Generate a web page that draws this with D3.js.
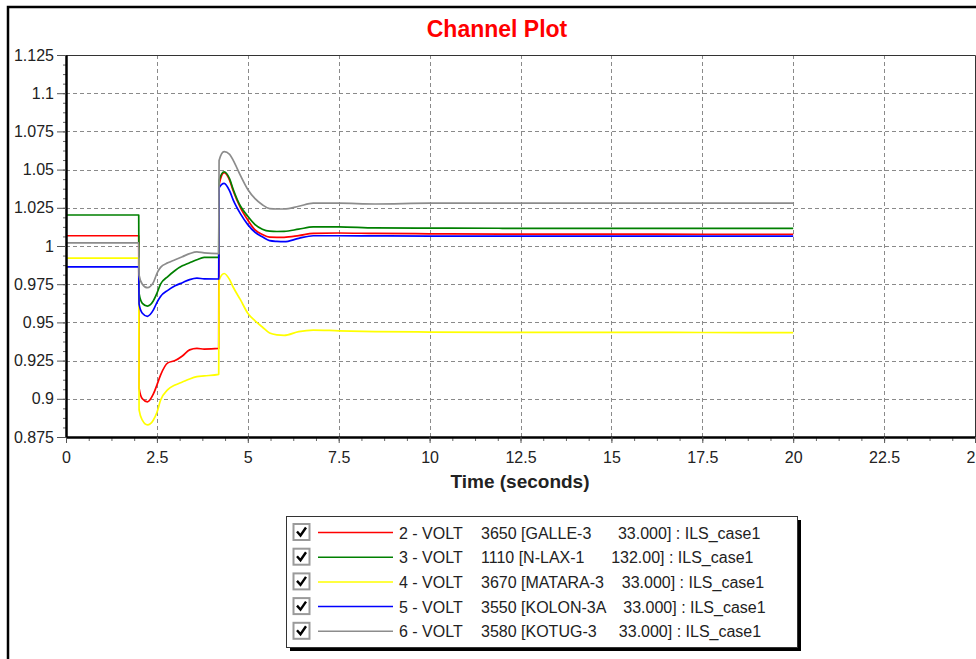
<!DOCTYPE html>
<html>
<head>
<meta charset="utf-8">
<script src="https://cdn.jsdelivr.net/npm/d3@7"></script>
<style>
  body { margin: 0; background: #fff; }
  text { font-family: "Liberation Sans", Arial, sans-serif; }
</style>
</head>
<body>
<div id="chart"></div>
<script>
// time axis shared by all channels (fault at 2.0 s, cleared at 4.2 s)
const time = [0, 2.0, 2.01, 2.1, 2.24, 2.4, 2.5, 2.6, 2.8, 3.0, 3.2, 3.4, 3.6, 3.8, 4.2, 4.21,
  4.35, 4.5, 4.6, 4.8, 5.0, 5.2, 5.4, 5.6, 5.8, 6.0, 6.4, 6.8, 7.5, 8.5, 10, 12, 15, 17.5, 20];

const galle = [1.0067, 1.0067, 0.907, 0.900, 0.898, 0.903, 0.909, 0.9155, 0.9235, 0.925, 0.928, 0.932, 0.933, 0.9325, 0.933, 1.040,
  1.048, 1.043, 1.036, 1.025, 1.017, 1.0105, 1.0075, 1.0058, 1.0057, 1.0057, 1.0068, 1.0083, 1.0085, 1.0082, 1.008, 1.0078, 1.0078, 1.0077, 1.0077];
const nlax = [1.0203, 1.0203, 0.969, 0.9625, 0.9607, 0.964, 0.969, 0.975, 0.980, 0.984, 0.987, 0.989, 0.991, 0.9925, 0.9926, 1.043,
  1.0486, 1.044, 1.037, 1.026, 1.0195, 1.014, 1.011, 1.0097, 1.0095, 1.0096, 1.011, 1.0125, 1.0125, 1.0118, 1.0117, 1.0116, 1.0116, 1.0116, 1.0116];
const matara = [0.992, 0.992, 0.8927, 0.886, 0.8829, 0.886, 0.891, 0.899, 0.906, 0.909, 0.911, 0.913, 0.9145, 0.915, 0.916, 0.9777,
  0.982, 0.978, 0.973, 0.9647, 0.956, 0.951, 0.947, 0.943, 0.9418, 0.9415, 0.944, 0.945, 0.9445, 0.944, 0.9437, 0.9435, 0.9435, 0.9434, 0.9433];
const kolon = [0.9863, 0.9863, 0.962, 0.956, 0.954, 0.958, 0.963, 0.967, 0.971, 0.974, 0.976, 0.978, 0.979, 0.9785, 0.9784, 1.038,
  1.041, 1.036, 1.030, 1.021, 1.014, 1.009, 1.006, 1.0035, 1.003, 1.0028, 1.005, 1.0067, 1.0067, 1.0066, 1.0065, 1.0065, 1.0065, 1.0065, 1.0065];
const kotug = [1.002, 1.002, 0.981, 0.975, 0.9727, 0.976, 0.982, 0.986, 0.989, 0.991, 0.993, 0.995, 0.9962, 0.9955, 0.995, 1.056,
  1.0617, 1.060, 1.056, 1.046, 1.037, 1.031, 1.027, 1.0245, 1.0242, 1.0242, 1.026, 1.028, 1.028, 1.0275, 1.028, 1.028, 1.028, 1.028, 1.028];

const channelNames = ["2 - VOLT", "3 - VOLT", "4 - VOLT", "5 - VOLT", "6 - VOLT"];
const channelBuses = [
  "3650 [GALLE-3      33.000] : ILS_case1",
  "1110 [N-LAX-1      132.00] : ILS_case1",
  "3670 [MATARA-3    33.000] : ILS_case1",
  "3550 [KOLON-3A    33.000] : ILS_case1",
  "3580 [KOTUG-3     33.000] : ILS_case1"
];
const channelColors = ["#ff0000", "#008000", "#ffff00", "#0000ff", "#8c8c8c"];
const channelValues = [galle, nlax, matara, kolon, kotug];

const xTicks = d3.range(0, 25.001, 2.5);
const yTicks = d3.range(0.875, 1.1251, 0.025);

// svg size
let svgWidth = 976;
let svgHeight = 659;

let svg = d3.select("#chart")
  .append("svg")
  .attr("width", svgWidth)
  .attr("height", svgHeight);

// outer window frame (left + top)
svg.append("path")
  .attr("d", `M8,${svgHeight} V7 H${svgWidth}`)
  .attr("fill", "none")
  .attr("stroke", "#000")
  .attr("stroke-width", 2.5);

// plot area
let plot = { left: 66, right: 975, top: 55, bottom: 437 };

let xScale = d3.scaleLinear().domain([0, 25]).range([plot.left, plot.right]);
let yScale = d3.scaleLinear().domain([0.875, 1.125]).range([plot.bottom, plot.top]);

// title
svg.append("text")
  .attr("x", 497)
  .attr("y", 37)
  .attr("text-anchor", "middle")
  .attr("font-size", "23px")
  .attr("font-weight", "bold")
  .attr("fill", "#ff0000")
  .text("Channel Plot");

// grid
let grid = svg.append("g");
grid.selectAll(".vgrid")
  .data(xTicks.filter(d => d > 0 && d < 25))
  .enter()
  .append("line")
  .attr("x1", d => Math.round(xScale(d)) + 0.5)
  .attr("x2", d => Math.round(xScale(d)) + 0.5)
  .attr("y1", plot.top)
  .attr("y2", plot.bottom)
  .attr("stroke", "#8a8a8a")
  .attr("stroke-dasharray", "4,3");
grid.selectAll(".hgrid")
  .data(yTicks.filter(d => d > 0.876 && d < 1.124))
  .enter()
  .append("line")
  .attr("x1", plot.left)
  .attr("x2", plot.right)
  .attr("y1", d => Math.round(yScale(d)) + 0.5)
  .attr("y2", d => Math.round(yScale(d)) + 0.5)
  .attr("stroke", "#8a8a8a")
  .attr("stroke-dasharray", "4,3");

// top / right border
svg.append("path")
  .attr("d", `M${plot.left},${plot.top + 0.5} H${plot.right + 0.5} V${plot.bottom}`)
  .attr("fill", "none")
  .attr("stroke", "#333")
  .attr("stroke-width", 1);

// channel lines
let line = d3.line()
  .x((d, i) => xScale(time[i]))
  .y(d => yScale(d))
  .curve(d3.curveMonotoneX);

svg.append("g")
  .selectAll("path")
  .data(channelValues)
  .enter()
  .append("path")
  .attr("d", d => line(d))
  .attr("fill", "none")
  .attr("stroke", (d, i) => channelColors[i])
  .attr("stroke-width", 1.7)
  .attr("stroke-linejoin", "round");

// minor ticks
let minorX = svg.append("g")
  .attr("transform", `translate(0, ${plot.bottom})`)
  .call(d3.axisBottom(xScale).tickValues(d3.range(0, 25.001, 0.625)).tickSize(4).tickFormat(""));
let minorY = svg.append("g")
  .attr("transform", `translate(${plot.left}, 0)`)
  .call(d3.axisLeft(yScale).tickValues(d3.range(0.875, 1.1251, 0.00625)).tickSize(3).tickFormat(""));
[minorX, minorY].forEach(g => {
  g.select(".domain").remove();
  g.selectAll("line").attr("stroke", "#666");
});

// major axes
let xAxis = svg.append("g")
  .attr("transform", `translate(0, ${plot.bottom})`)
  .call(d3.axisBottom(xScale).tickValues(xTicks).tickSize(6).tickSizeOuter(0).tickPadding(9)
    .tickFormat(d => String(+d.toFixed(2))));
let yAxis = svg.append("g")
  .attr("transform", `translate(${plot.left}, 0)`)
  .call(d3.axisLeft(yScale).tickValues(yTicks).tickSize(9).tickSizeOuter(0).tickPadding(3)
    .tickFormat(d => String(+d.toFixed(3))));

[xAxis, yAxis].forEach(g => {
  g.select(".domain").attr("stroke", "#000").attr("stroke-width", 2.5);
  g.selectAll(".tick line").attr("stroke", "#555");
  g.selectAll(".tick text")
    .attr("font-size", "16px")
    .attr("font-family", "'Liberation Sans', Arial, sans-serif")
    .attr("fill", "#222");
});

// x axis title
svg.append("text")
  .attr("x", 520)
  .attr("y", 488)
  .attr("text-anchor", "middle")
  .attr("font-size", "19px")
  .attr("font-weight", "bold")
  .attr("fill", "#222")
  .text("Time (seconds)");

// legend
let legend = { left: 286, top: 516, width: 511, height: 131, rowStart: 532.5, rowStep: 24.7 };

svg.append("rect")
  .attr("x", legend.left + 4)
  .attr("y", legend.top + 4)
  .attr("width", legend.width)
  .attr("height", legend.height)
  .attr("fill", "#000");
svg.append("rect")
  .attr("x", legend.left + 0.5)
  .attr("y", legend.top + 0.5)
  .attr("width", legend.width)
  .attr("height", legend.height)
  .attr("fill", "#fff")
  .attr("stroke", "#333");

let rows = svg.append("g")
  .selectAll("g")
  .data(channelNames)
  .enter()
  .append("g")
  .attr("transform", (d, i) => `translate(0, ${legend.rowStart + i * legend.rowStep})`);

// checkbox
rows.append("rect")
  .attr("x", 293.5)
  .attr("y", -8.5)
  .attr("width", 16)
  .attr("height", 16)
  .attr("fill", "#fff")
  .attr("stroke", "#9a9a9a")
  .attr("stroke-width", 2);
rows.append("path")
  .attr("d", "M297,-1 L300.5,3 L306,-5")
  .attr("fill", "none")
  .attr("stroke", "#000")
  .attr("stroke-width", 2.4);

rows.append("line")
  .attr("x1", 318)
  .attr("x2", 393)
  .attr("y1", 0)
  .attr("y2", 0)
  .attr("stroke", (d, i) => channelColors[i])
  .attr("stroke-width", 1.5);

rows.append("text")
  .attr("x", 399)
  .attr("y", 6)
  .attr("font-size", "16px")
  .attr("fill", "#222")
  .text(d => d);

rows.append("text")
  .attr("x", 481)
  .attr("y", 6)
  .attr("font-size", "16px")
  .attr("fill", "#222")
  .style("white-space", "pre")
  .text((d, i) => channelBuses[i]);
</script>
</body>
</html>
